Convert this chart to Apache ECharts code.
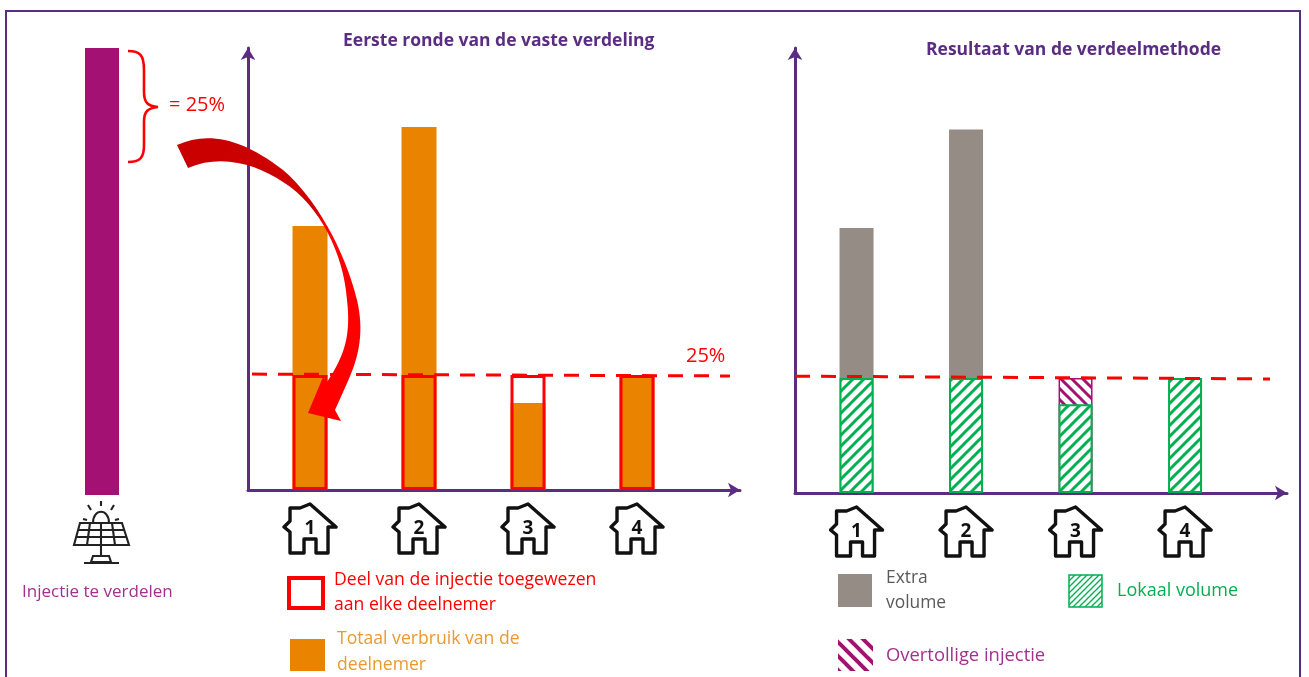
<!DOCTYPE html>
<html><head><meta charset="utf-8">
<style>html,body{margin:0;padding:0;background:#fff}#c{width:1309px;height:677px}</style>
<script src="https://cdn.jsdelivr.net/npm/echarts@6/dist/echarts.min.js"></script>
</head><body><div id="c"></div>
<script>
const houses = [1, 2, 3, 4];
const injection = [100];
const fixedShare = [25, 25, 25, 25];
const totalUse = [57.4, 78.9, 18.9, 25];
const localVolume = [25, 25, 19.3, 25];
const surplus = [0, 0, 5.7, 0];
const extraVolume = [32.6, 54, 0, 0];
const lineLeft = [[0.468, 25.2], [4.853, 24.8]];
const lineRight = [[0.438, 25.4], [4.776, 24.8]];

const PURPLE = '#5b2d82', RED = '#ff0000', ORANGE = '#e98300', GREY = '#968c86', GREEN = '#00b050', MAGENTA = '#a31273';
const FONT = '"Open Sans", sans-serif';

function hatch(color, size, w, back) {
  const c = document.createElement('canvas'); c.width = c.height = size;
  const g = c.getContext('2d'); g.fillStyle = '#fff'; g.fillRect(0, 0, size, size);
  g.strokeStyle = color; g.lineWidth = w; g.lineCap = 'square';
  const seg = (a, b, d, e) => { g.beginPath(); g.moveTo(a, b); g.lineTo(d, e); g.stroke(); };
  if (back) { seg(-size, 0, size, 2 * size); seg(0, -size, 2 * size, size); seg(0, 0, size, size); }
  else { seg(-size, size, size, -size); seg(0, size, size, 0); seg(0, 2 * size, 2 * size, 0); }
  return { image: c, repeat: 'repeat' };
}

const housePath = 'M28 2 L54 25 L46 25 L46 51 L34 51 L34 37 L22 37 L22 51 L8 51 L8 30 L2 25 L8 19 L8 6 L18 6 Z';
const houseUri = 'data:image/svg+xml;charset=utf-8,' + encodeURIComponent(
  '<svg xmlns="http://www.w3.org/2000/svg" width="56" height="53" viewBox="0 0 56 53"><path d="' + housePath +
  '" fill="#fff" stroke="#111" stroke-width="3.4" stroke-linejoin="round"/></svg>');

const houseLabel = {
  show: true, customValues: houses, margin: 12, hideOverlap: false,
  formatter: v => '{h|' + v + '}',
  rich: { h: { width: 56, height: 53, align: 'center', verticalAlign: 'top', lineHeight: 44,
    backgroundColor: { image: houseUri }, fontFamily: FONT, fontWeight: 'bold', fontSize: 19, color: '#111' } }
};
const axisLine = { show: true, onZero: false, symbol: ['none', 'arrow'], symbolSize: [11, 12], lineStyle: { color: PURPLE, width: 3 } };

function xAxis(gridIndex, min, max) {
  return { type: 'value', gridIndex, min, max, axisLine, axisTick: { show: false }, splitLine: { show: false }, axisLabel: houseLabel };
}
function yAxis(gridIndex, max) {
  return { type: 'value', gridIndex, min: 0, max, axisLine, axisTick: { show: false }, splitLine: { show: false }, axisLabel: { show: false } };
}
const pairs = arr => arr.map((v, i) => [houses[i], v]);
// Segments piled up on a value-value grid: each is drawn up to its cumulative top, tallest first.
const piled = (segment, ...below) => segment
  .map((v, i) => v > 0 ? [houses[i], below.reduce((s, a) => s + a[i], v)] : null)
  .filter(Boolean);
const dash = (data, x, y) => ({ type: 'line', xAxisIndex: x, yAxisIndex: y, data, symbol: 'none', silent: true, z: 5, clip: false,
  lineStyle: { color: RED, width: 3, type: [15, 11] } });

const gText = (x, y, text, fill, size) => ({ type: 'text', z: 20, style: { x, y, text, fill, font: size + 'px ' + FONT, textVerticalAlign: 'middle' } });
const solar = 'M101 501 L101 506 M88 505 L91 510 M114 505 L111 510 M83 519 L87 520 M119 519 L115 520 ' +
  'M93 523 C93 508 109 508 109 523 M80 523 L122 523 L129 545 L74 545 Z M78 530 L125 530 M76 537 L127 537 ' +
  'M90 523 L87 545 M101 523 L101 545 M112 523 L115 545 M101 545 L101 556 M93 556 L109 556 L111 562 L91 562 Z M84 563 L119 563';
const brace = 'M128 51 C140 51 144 55 144 70 L144 92 C144 103 148 106 158 107 C148 108 144 111 144 122 L144 145 C144 158 140 162 128 162';
const arrow = 'M177 145 C205 132 240 136 283 170 C315 197 345 250 357 300 C364 330 360 355 348 381 L335 410 L341 421 L308 413 L323 377 L327 382 C345 355 351 335 347 300 C344 255 320 205 283 182 C258 165 222 153 188 168 Z';

const G = echarts.graphic;
G.registerShape('solarIcon', G.extendPath(solar, {}));
G.registerShape('braceMark', G.extendPath(brace, {}));
G.registerShape('curveArrow', G.extendPath(arrow, {}));

const titleStyle = { color: PURPLE, fontFamily: FONT, fontWeight: 'bold', fontSize: 17.5, lineHeight: 20 };
const option = {
  animation: false,
  backgroundColor: '#fff',
  title: [
    { text: 'Eerste ronde van de vaste verdeling', left: 343, top: 31, padding: 0, textStyle: titleStyle },
    { text: 'Resultaat van de verdeelmethode', left: 926, top: 40, padding: 0, textStyle: titleStyle }
  ],
  grid: [
    { left: 62, width: 80, top: 48, height: 447 },
    { left: 248, width: 492, top: 48, height: 442 },
    { left: 795, width: 492, top: 48, height: 445 }
  ],
  xAxis: [
    { type: 'category', gridIndex: 0, data: ['Injectie'], show: false },
    xAxis(1, 0.431, 4.945),
    xAxis(2, 0.438, 4.931)
  ],
  yAxis: [
    { type: 'value', gridIndex: 0, min: 0, max: 100, show: false },
    yAxis(1, 96.09),
    yAxis(2, 96.74)
  ],
  series: [
    { type: 'bar', xAxisIndex: 0, yAxisIndex: 0, data: injection, barWidth: 34, itemStyle: { color: MAGENTA } },

    { type: 'bar', xAxisIndex: 1, yAxisIndex: 1, data: pairs(totalUse), barWidth: 35, barGap: '-100%', itemStyle: { color: ORANGE } },
    { type: 'bar', xAxisIndex: 1, yAxisIndex: 1, data: pairs(fixedShare), barWidth: 35, barGap: '-100%', z: 3,
      itemStyle: { color: 'rgba(0,0,0,0)', borderColor: RED, borderWidth: 3 } },
    dash(lineLeft, 1, 1),

    { type: 'bar', xAxisIndex: 2, yAxisIndex: 2, data: piled(extraVolume, surplus, localVolume), barWidth: 34, barGap: '-100%', z: 2, itemStyle: { color: GREY } },
    { type: 'bar', xAxisIndex: 2, yAxisIndex: 2, data: piled(surplus, localVolume), barWidth: 34, barGap: '-100%', z: 3,
      itemStyle: { color: hatch(MAGENTA, 11, 3, true), borderColor: MAGENTA, borderWidth: 1.5 } },
    { type: 'bar', xAxisIndex: 2, yAxisIndex: 2, data: piled(localVolume), barWidth: 34, barGap: '-100%', z: 4,
      itemStyle: { color: hatch(GREEN, 11, 3, false), borderColor: GREEN, borderWidth: 2 } },
    dash(lineRight, 2, 2)
  ],
  graphic: [
    { type: 'rect', z: 0, shape: { x: 6, y: 11, width: 1294, height: 700 }, style: { fill: 'none', stroke: PURPLE, lineWidth: 2 } },
    { type: 'braceMark', z: 20, style: { fill: 'none', stroke: RED, lineWidth: 2.6 } },
    gText(169, 105, '= 25%', RED, 20),
    gText(686, 356, '25%', RED, 20),
    { type: 'curveArrow', z: 20,
      style: { stroke: 'none', fill: { type: 'linear', global: true, x: 177, y: 145, x2: 361, y2: 330, colorStops: [{ offset: 0, color: '#c80000' }, { offset: 0.56, color: '#d00000' }, { offset: 0.62, color: RED }, { offset: 1, color: RED }] } } },
    { type: 'solarIcon', z: 20, style: { fill: 'none', stroke: '#222', lineWidth: 2.1 } },
    gText(22, 592, 'Injectie te verdelen', '#a3308e', 17),

    { type: 'rect', z: 20, shape: { x: 289, y: 578, width: 34, height: 30 }, style: { fill: '#fff', stroke: RED, lineWidth: 4 } },
    gText(334, 580, 'Deel van de injectie toegewezen', RED, 17.6),
    gText(334, 605, 'aan elke deelnemer', RED, 17.6),
    { type: 'rect', z: 20, shape: { x: 290, y: 639, width: 35, height: 32 }, style: { fill: ORANGE } },
    gText(337, 639, 'Totaal verbruik van de', '#ea9a2e', 17.6),
    gText(337, 665, 'deelnemer', '#ea9a2e', 17.6),

    { type: 'rect', z: 20, shape: { x: 838, y: 574, width: 34, height: 33 }, style: { fill: GREY } },
    gText(886, 578, 'Extra', '#5a5a5a', 17.4),
    gText(886, 603, 'volume', '#5a5a5a', 17.4),
    { type: 'rect', z: 20, shape: { x: 1069, y: 575, width: 33, height: 32 }, style: { fill: hatch(GREEN, 6, 1.3, false), stroke: GREEN, lineWidth: 1.5 } },
    gText(1117, 591, 'Lokaal volume', GREEN, 18),
    { type: 'rect', z: 20, shape: { x: 838, y: 639, width: 35, height: 32 }, style: { fill: hatch(MAGENTA, 14, 4, true) } },
    gText(886, 656, 'Overtollige injectie', '#a3308e', 18.4)
  ]
};
const chart = echarts.init(document.getElementById('c'), null, { renderer: 'canvas' });
chart.setOption(option);
</script></body></html>
